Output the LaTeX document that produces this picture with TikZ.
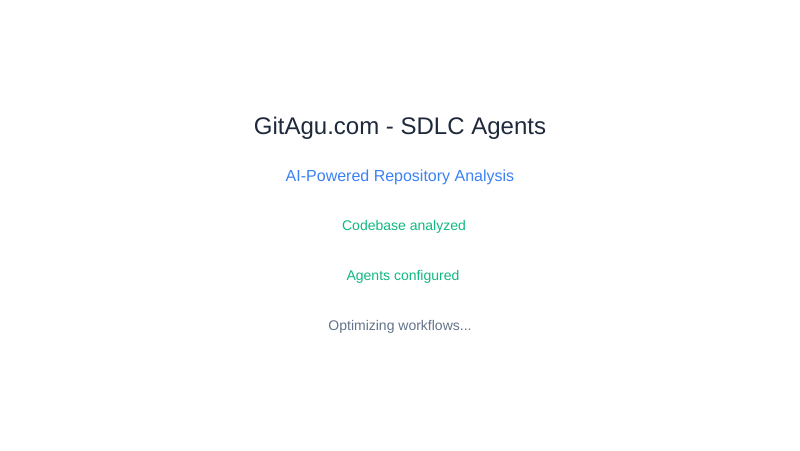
\documentclass[tikz,border=0pt]{standalone}
\usepackage{fontspec}
\setmainfont{Liberation Sans}
\definecolor{titlec}{HTML}{1E293B}
\definecolor{bluec}{HTML}{3B82F6}
\definecolor{greenc}{HTML}{10B981}
\definecolor{grayc}{HTML}{64748B}
\tikzset{lbl/.style={anchor=base, inner sep=0pt}}
\begin{document}
\begin{tikzpicture}[x=1pt,y=-1pt]
\useasboundingbox[fill=white] (0,0) rectangle (800,450);
\node[lbl, text=titlec, font=\fontsize{24}{28}\selectfont] (title) at (400,134) {GitAgu.com - SDLC Agents};
\node[lbl, text=bluec, font=\fontsize{16}{19}\selectfont] (sub) at (400,181) {AI-Powered Repository Analysis};
\node[lbl, text=greenc, font=\fontsize{14}{17}\selectfont] (s1) at (404,230) {Codebase analyzed};
\node[lbl, text=greenc, font=\fontsize{14}{17}\selectfont] (s2) at (403,280) {Agents configured};
\node[lbl, text=grayc, font=\fontsize{14}{17}\selectfont] (s3) at (400,330) {Optimizing workflows...};
\end{tikzpicture}
\end{document}
